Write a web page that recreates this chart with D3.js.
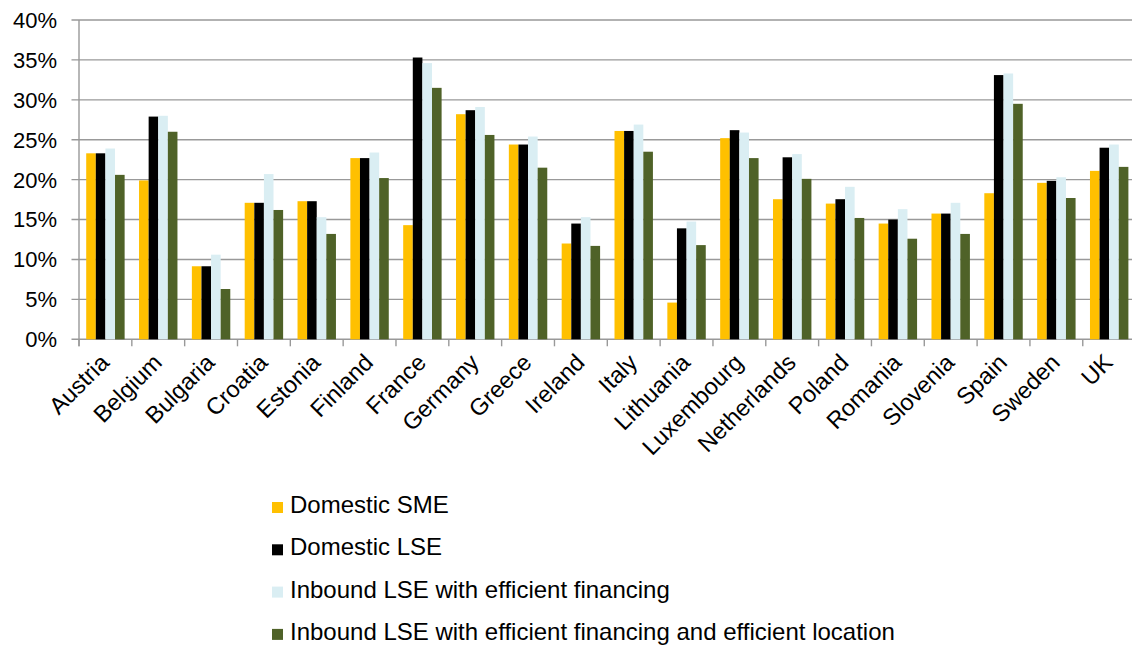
<!DOCTYPE html>
<html><head><meta charset="utf-8">
<script src="https://cdn.jsdelivr.net/npm/d3@7"></script>
<style>body{margin:0;background:#fff}svg{display:block;font-family:"Liberation Sans",Arial,sans-serif}</style>
</head><body><svg id="c" width="1132" height="646"></svg>
<script>
const countries = ["Austria","Belgium","Bulgaria","Croatia","Estonia","Finland","France","Germany","Greece","Ireland","Italy","Lithuania","Luxembourg","Netherlands","Poland","Romania","Slovenia","Spain","Sweden","UK"];
const seriesNames = ["Domestic SME","Domestic LSE","Inbound LSE with efficient financing","Inbound LSE with efficient financing and efficient location"];
const seriesColors = ["#FFC000","#000000","#DAEEF3","#4F6228"];
const domesticSME = [23.3,19.9,9.15,17.1,17.3,22.7,14.3,28.2,24.4,12.0,26.1,4.6,25.2,17.55,17.0,14.5,15.75,18.3,19.6,21.1];
const domesticLSE = [23.3,27.9,9.15,17.1,17.3,22.7,35.3,28.7,24.4,14.5,26.1,13.9,26.2,22.8,17.55,15.0,15.75,33.1,19.85,24.0];
const inboundFin = [23.9,28.0,10.6,20.7,15.3,23.4,34.6,29.1,25.4,15.3,26.9,14.75,25.9,23.2,19.1,16.3,17.1,33.3,20.3,24.4];
const inboundFinLoc = [20.6,26.0,6.3,16.2,13.2,20.2,31.5,25.6,21.5,11.7,23.5,11.8,22.7,20.1,15.2,12.6,13.2,29.5,17.7,21.6];
const yTicks = [0,5,10,15,20,25,30,35,40];

const allSeries = [domesticSME, domesticLSE, inboundFin, inboundFinLoc];
const svg = d3.select("#c");
const left = 79, bandW = 52.83;
const x = d3.scaleBand().domain(countries).range([left, left + bandW*countries.length]).padding(0);
const barW = bandW/5.5;
const x1 = d3.scaleBand().domain(d3.range(4)).range([barW*0.75, bandW - barW*0.75]).padding(0);
const y = d3.scaleLinear().domain([0,40]).range([339.3,20]);
const grid = "#999";

// gridlines
svg.append("g").selectAll("line").data(yTicks).join("line")
  .attr("x1", left-7.5).attr("x2", 1132)
  .attr("y1", d=>y(d)).attr("y2", d=>y(d))
  .attr("stroke", grid).attr("stroke-width", 1.4);

// bars
const g = svg.append("g");
countries.forEach((c,i)=>{
  allSeries.forEach((s,j)=>{
    g.append("rect")
      .attr("x", x(c)+x1(j)).attr("width", x1.bandwidth())
      .attr("y", y(s[i])).attr("height", y(0)-y(s[i]))
      .attr("fill", seriesColors[j]);
  });
});

// y axis line
svg.append("line").attr("x1",left).attr("x2",left).attr("y1",y(40)).attr("y2",y(0)+7)
  .attr("stroke",grid).attr("stroke-width",1.4);
// x ticks
const bounds = d3.range(countries.length+1).map(k=>left+k*bandW);
svg.append("g").selectAll("line").data(bounds).join("line")
  .attr("x1",d=>d).attr("x2",d=>d).attr("y1",y(0)).attr("y2",y(0)+7)
  .attr("stroke",grid).attr("stroke-width",1.4);

// y labels
svg.append("g").selectAll("text").data(yTicks).join("text")
  .attr("x", 57).attr("y", d=>y(d)).attr("dy","0.36em")
  .attr("text-anchor","end").attr("font-size",22).attr("fill","#000")
  .text(d=>d+"%");

// x labels
svg.append("g").selectAll("text").data(countries).join("text")
  .attr("transform", d=>`translate(${x(d)+x.bandwidth()/2+5},${364}) rotate(-45)`)
  .attr("text-anchor","end").attr("font-size",23.5).attr("fill","#000")
  .text(d=>d);

// legend
const lg = svg.append("g");
seriesNames.forEach((n,j)=>{
  const by = 513 + j*42.3;
  lg.append("rect").attr("x",272).attr("y",by-11).attr("width",11).attr("height",11).attr("fill",seriesColors[j]);
  lg.append("text").attr("x",290).attr("y",by).attr("font-size",24).attr("fill","#000").text(n);
});
</script></body></html>
